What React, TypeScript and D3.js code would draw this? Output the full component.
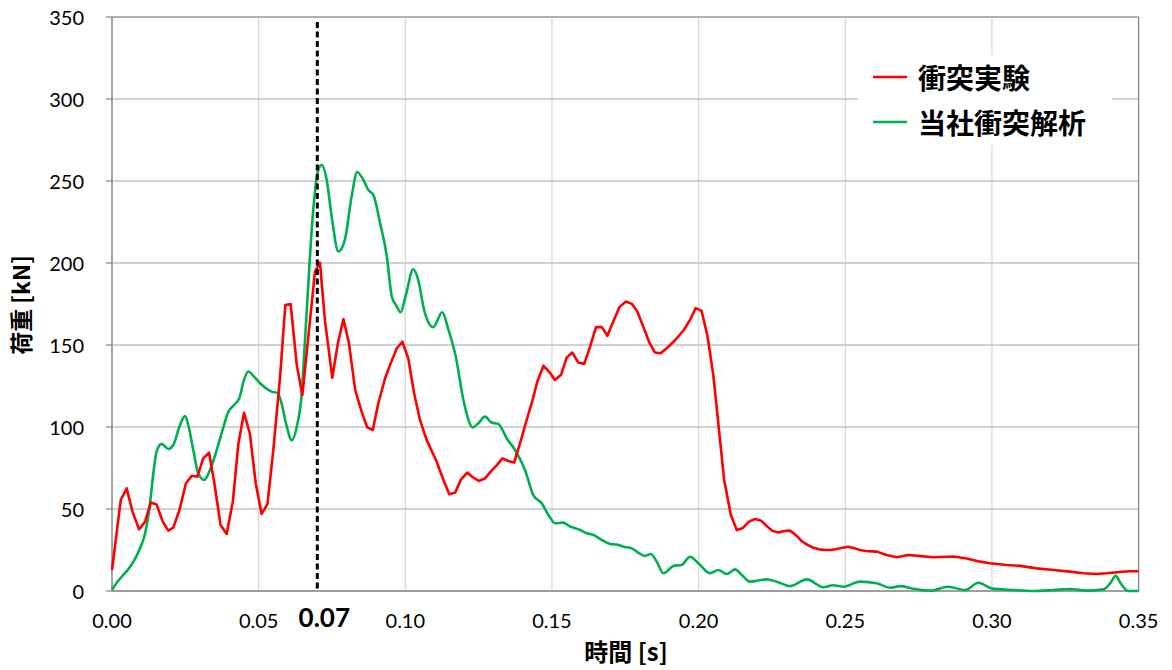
import React from "react";
import * as d3 from "d3";

const redT = [0,0.003,0.005,0.007,0.0092,0.0113,0.0132,0.0152,0.0173,0.0192,0.0209,0.023,0.0252,0.0272,0.0291,0.0311,0.0331,0.0351,0.037,0.0391,0.0412,0.0431,0.045,0.047,0.049,0.051,0.053,0.055,0.0573,0.0591,0.0609,0.063,0.0649,0.0692,0.0709,0.0726,0.0751,0.077,0.0789,0.0808,0.0829,0.0851,0.087,0.0889,0.0908,0.0931,0.095,0.0971,0.099,0.101,0.103,0.105,0.1073,0.1107,0.113,0.115,0.117,0.119,0.1211,0.1232,0.1251,0.1272,0.1291,0.1312,0.1331,0.1351,0.1371,0.1391,0.1412,0.1431,0.145,0.1471,0.149,0.151,0.1531,0.155,0.1569,0.159,0.161,0.163,0.165,0.167,0.1689,0.1709,0.173,0.1752,0.1772,0.1791,0.1811,0.1832,0.1851,0.1871,0.1891,0.1912,0.1931,0.195,0.1971,0.199,0.201,0.203,0.205,0.2067,0.2087,0.211,0.213,0.2149,0.2172,0.2192,0.2213,0.2232,0.2251,0.2272,0.2291,0.2312,0.2331,0.2351,0.2371,0.2391,0.2411,0.2431,0.2451,0.2471,0.2491,0.251,0.2531,0.255,0.257,0.2607,0.2641,0.2675,0.2715,0.2749,0.28,0.2869,0.2914,0.296,0.2993,0.305,0.3096,0.3153,0.3209,0.3266,0.3312,0.3357,0.3391,0.3437,0.347,0.35];
const redV = [12.8,55.5,62.6,48.4,37.6,42.3,54,52.8,42.3,36.8,38.6,49.4,65.7,70.3,69.7,80.9,84.3,63.6,40.2,34.8,54.5,90,108.7,96.1,65.7,47,53,86,130.7,174.4,175,137.8,119.5,194.7,200.2,165,130,151,165.8,151,122.6,109.4,99.8,98.2,114.5,129.7,138.8,148,152,141.9,120.5,104.3,92,78.8,67.7,59,60,68.1,72.2,69.1,67.1,68.7,72.8,76.8,80.9,79.3,78.3,90,103.3,114.5,127.6,137.4,133.8,128.7,131.8,142.3,145.4,139.3,138.5,149,160.9,160.9,155.6,164.3,173.1,176.5,175.1,170.4,161.3,151.5,145.4,145,148,151.5,155.2,159.3,165.4,172.5,170.8,155.6,131.8,102.3,67.7,46.3,37.2,38.2,42.3,43.9,42.9,39.6,36.8,35.6,36.6,36.8,34.2,30.5,28.1,26.4,25.4,25,25,25.6,26.4,27,26,25,24.4,24,22,20.6,22,21.4,20.6,21,19.8,17.9,16.9,15.9,15.3,13.8,12.8,11.8,10.8,10.4,10.8,11.6,12,12];

const greenT = [0,0.0016,0.0033,0.0052,0.0073,0.0092,0.0113,0.0127,0.0141,0.0152,0.0169,0.0192,0.0209,0.0232,0.0249,0.026,0.0275,0.0294,0.0314,0.0334,0.0357,0.0377,0.0397,0.0416,0.0434,0.045,0.0465,0.0484,0.0505,0.0524,0.0544,0.0565,0.0578,0.0593,0.0613,0.063,0.0647,0.0658,0.0666,0.0686,0.0703,0.0715,0.0732,0.0749,0.0772,0.0794,0.0817,0.0836,0.0857,0.0874,0.0891,0.0914,0.0937,0.0954,0.0968,0.0984,0.1002,0.1027,0.1044,0.1064,0.1095,0.1126,0.1147,0.1172,0.1198,0.123,0.1249,0.1272,0.1294,0.1317,0.1346,0.1374,0.1408,0.1436,0.1465,0.1488,0.1511,0.1537,0.1562,0.1596,0.1618,0.1641,0.167,0.1698,0.1721,0.1744,0.1772,0.1794,0.1817,0.1837,0.1857,0.188,0.1914,0.1942,0.1971,0.1999,0.2039,0.2067,0.2096,0.2124,0.2147,0.2175,0.2232,0.2266,0.2312,0.2369,0.2425,0.2459,0.2494,0.255,0.2607,0.2652,0.2687,0.2732,0.2789,0.2851,0.2908,0.2954,0.2999,0.3073,0.3141,0.3209,0.3266,0.3323,0.338,0.3403,0.3422,0.3439,0.3465,0.35];
const greenV = [0.6,5,8.7,12.4,17.9,24.6,35.2,49.4,71.8,85,89.7,86.6,89,101.2,106.7,101.2,88,71.8,67.7,73.8,86,98.2,109.4,113.4,117.5,128.7,133.8,130.7,126.7,123.7,121.6,120.6,114.5,102.3,92,100.2,120.6,153,177.4,232.3,256.7,259.8,250.6,228.3,207,214.2,240.6,255.5,250.6,244.5,241.5,224.3,203.9,179.5,174.4,170,180.5,196.2,189.7,171.4,160.9,170,159.3,143,116.5,99.8,102.3,106.3,102.7,101.9,93,86,73.8,58.6,53.5,46.4,41.3,41.7,39.3,37.2,35.2,34.2,31.1,28.7,28.3,27,26,23.4,21.4,22.6,17.9,10.8,15.3,15.9,20.9,16.9,10.8,12.8,10.4,13.2,9.8,5.7,7.1,5.7,3,7.1,2.3,3.5,2.6,5.7,4.7,2,3,1.4,0.2,2.6,0.6,5,1.6,0.6,0,0.6,1.2,0.2,1,4.7,9.2,4.7,0,0];

const xTicks = [0, 0.05, 0.1, 0.15, 0.2, 0.25, 0.3, 0.35];
const yTicks = [0, 50, 100, 150, 200, 250, 300, 350];
const seriesNames = ["衝突実験", "当社衝突解析"];
const markerT = 0.07;
const markerLabel = "0.07";

export default function App() {
  const x = d3.scaleLinear().domain([0, 0.35]).range([112, 1138.6]);
  const y = d3.scaleLinear().domain([0, 350]).range([591, 17]);
  const redLine = d3
    .line<[number, number]>()
    .x((d) => x(d[0]))
    .y((d) => y(d[1]))
    .curve(d3.curveLinear);
  const greenLine = d3
    .line<[number, number]>()
    .x((d) => x(d[0]))
    .y((d) => y(d[1]))
    .curve(d3.curveMonotoneX);
  const redPts = redT.map((t, i) => [t, redV[i]] as [number, number]);
  const greenPts = greenT.map((t, i) => [t, greenV[i]] as [number, number]);
  const numFont = "Lato, 'Open Sans', sans-serif";
  const cjkFont = "'Noto Sans CJK JP', 'Noto Sans', sans-serif";
  const [x0, x1] = x.range();
  const [y0, y1] = y.range();

  return (
    <svg
      width={1172}
      height={670}
      style={{ position: "absolute", left: 0, top: 0, background: "#fff" }}
    >
      <rect x={0} y={0} width={1172} height={670} fill="#fff" />
      {xTicks.map((t) => (
        <line key={"vx" + t} x1={x(t)} x2={x(t)} y1={y1} y2={y0} stroke="#d9d9d9" strokeWidth={1.3} />
      ))}
      {yTicks.map((v) => (
        <line key={"hy" + v} x1={x0} x2={x1} y1={y(v)} y2={y(v)} stroke="#c4c4c4" strokeWidth={1.3} />
      ))}
      <line x1={x0} x2={x1} y1={y1} y2={y1} stroke="#a6a6a6" strokeWidth={1.3} />
      <line x1={x1} x2={x1} y1={y1} y2={y0} stroke="#8c8c8c" strokeWidth={1.3} />
      <line x1={x0} x2={x0} y1={y1} y2={y0} stroke="#8c8c8c" strokeWidth={1.5} />
      <line x1={x0} x2={x1} y1={y0} y2={y0} stroke="#8c8c8c" strokeWidth={1.5} />
      {yTicks.map((v) => (
        <line key={"ty" + v} x1={x0 - 6} x2={x0} y1={y(v)} y2={y(v)} stroke="#8c8c8c" strokeWidth={1.3} />
      ))}
      <path d={greenLine(greenPts) || ""} fill="none" stroke="#00b050" strokeWidth={2.6} strokeLinejoin="round" />
      <path d={redLine(redPts) || ""} fill="none" stroke="#ff0000" strokeWidth={2.6} strokeLinejoin="round" />
      <line
        x1={x(markerT)}
        x2={x(markerT)}
        y1={22}
        y2={y0}
        stroke="#000"
        strokeWidth={3}
        strokeDasharray="6,3.5"
      />
      {yTicks.map((v) => (
        <text
          key={"ly" + v}
          x={84}
          y={y(v)}
          textAnchor="end"
          dominantBaseline="central"
          fontFamily={numFont}
          fontSize={20}
          fill="#000"
        >
          {v}
        </text>
      ))}
      {xTicks.map((t) => (
        <text
          key={"lx" + t}
          x={x(t)}
          y={628}
          textAnchor="middle"
          fontFamily={numFont}
          fontSize={20}
          fill="#000"
        >
          {t.toFixed(2)}
        </text>
      ))}
      <text
        x={x(markerT) + 7}
        y={627}
        textAnchor="middle"
        fontFamily={numFont}
        fontSize={26}
        fontWeight="bold"
        fill="#000"
      >
        {markerLabel}
      </text>
      <text
        x={626}
        y={661}
        textAnchor="middle"
        fontFamily={cjkFont}
        fontSize={24}
        fontWeight="bold"
        fill="#000"
      >
        時間 [s]
      </text>
      <text
        transform="translate(20,305) rotate(-90)"
        textAnchor="middle"
        dominantBaseline="central"
        fontFamily={cjkFont}
        fontSize={23}
        fontWeight="bold"
        fill="#000"
      >
        荷重 [kN]
      </text>
      <rect x={858} y={55} width={254} height={90} fill="#fff" />
      {seriesNames.map((name, i) => (
        <g key={name}>
          <line
            x1={873}
            x2={907}
            y1={77 + i * 45}
            y2={77 + i * 45}
            stroke={i === 0 ? "#ff0000" : "#00b050"}
            strokeWidth={2.6}
          />
          <text
            x={918}
            y={77 + i * 45}
            dominantBaseline="central"
            fontFamily={cjkFont}
            fontSize={28}
            fontWeight="bold"
            fill="#000"
          >
            {name}
          </text>
        </g>
      ))}
    </svg>
  );
}
